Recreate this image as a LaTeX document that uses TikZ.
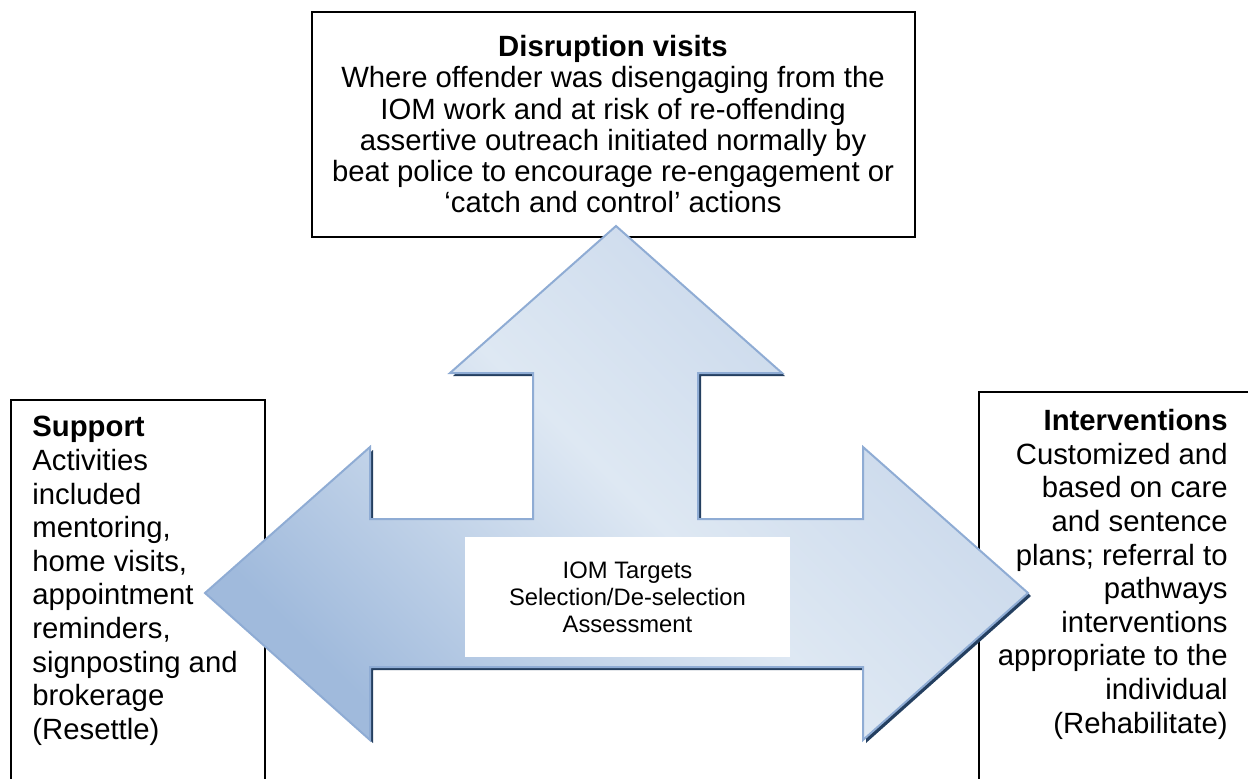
\documentclass[tikz,border=0pt]{standalone}
\usepackage{fontspec}
\setmainfont{Liberation Sans}
\usepackage{tikz}

\definecolor{arrowdark}{RGB}{160,186,220}
\definecolor{arrowlight}{RGB}{222,232,243}
\definecolor{arrowmid}{RGB}{196,212,233}
\definecolor{arrowline}{RGB}{143,172,212}
\definecolor{arrowshadow}{RGB}{36,63,96}

% outline of the three-headed arrow (pixel units, y downwards)
\newcommand{\arrowoutline}{(616,226) -- (782,373) -- (698,373) -- (698,519)
  -- (863,519) -- (863,447) -- (1028,593) -- (863,740) -- (863,667)
  -- (370,667) -- (370,740) -- (205,593) -- (370,447) -- (370,519)
  -- (533,519) -- (533,373) -- (450,373) -- cycle}

\begin{document}
\begin{tikzpicture}[x=0.5pt, y=-0.5pt,
    box/.style={draw=black, line width=1pt},
    boxtext/.style={inner sep=0pt, font=\fontsize{14.65}{16.8}\selectfont},
    toptext/.style={inner sep=0pt, font=\fontsize{14.65}{15.6}\selectfont},
    centrebox/.style={fill=white, inner sep=0pt, minimum width=162.5pt,
      minimum height=60pt, align=center, font=\fontsize{11.9}{13.5}\selectfont}]
    \useasboundingbox (0,0) rectangle (1248,778);
    % Boxes
    \draw[box] (312,12) rectangle (915,237);
    \draw[box] (11,790) -- (11,400) -- (265,400) -- (265,790);
    \draw[box] (979,790) -- (979,392) -- (1260,392);
    % Arrow with its shadow
    \fill[arrowshadow, shift={(3,3)}] \arrowoutline;
    \shade[top color=arrowdark, bottom color=arrowmid, middle color=arrowlight,
      shading angle=135] \arrowoutline;
    \draw[arrowline, line width=1pt] \arrowoutline;
    % Centre
    \node[centrebox] (targets) at (627.5,597)
      {IOM Targets\\Selection/De-selection\\Assessment};
    % Disruption visits
    \node[toptext, align=center, anchor=north] (disruption) at (613,35)
      {\textbf{Disruption visits}\\
       Where offender was disengaging from the\\
       IOM work and at risk of re-offending\\
       assertive outreach initiated normally by\\
       beat police to encourage re-engagement or\\
       `catch and control' actions};
    % Support
    \node[boxtext, align=left, anchor=north west] (support) at (32,416)
      {\textbf{Support}\\Activities\\included\\mentoring,\\home visits,\\
       appointment\\reminders,\\signposting and\\brokerage\\(Resettle)};
    % Interventions
    \node[boxtext, align=right, anchor=north east] (interventions) at (1228,409)
      {\textbf{Interventions}\\Customized and\\based on care\\and sentence\\
       plans; referral to\\pathways\\interventions\\appropriate to the\\
       individual\\(Rehabilitate)};
\end{tikzpicture}
\end{document}
